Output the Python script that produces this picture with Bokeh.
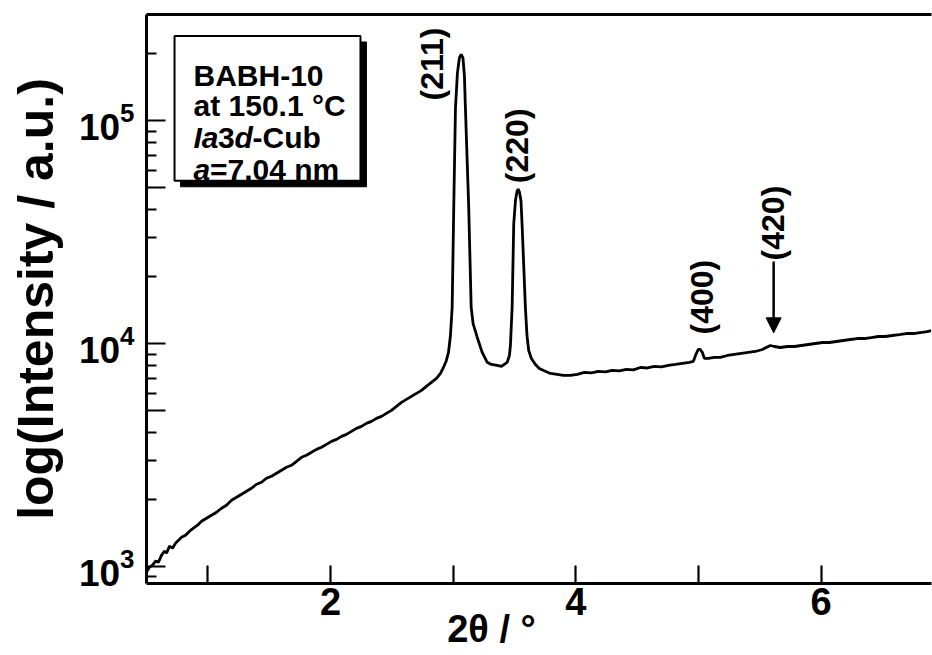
from bokeh.plotting import figure
from bokeh.models import (FixedTicker, LinearAxis, Label, BoxAnnotation, Arrow,
                          NormalHead, Range1d, ColumnDataSource)
from bokeh.embed import file_html
from bokeh.resources import INLINE
from bokeh.core.properties import value

# ---------------- data ----------------
two_theta = [0.500, 0.525, 0.549, 0.574, 0.598, 0.623, 0.647, 0.663, 0.688, 0.712,
             0.737, 0.761, 0.786, 0.818, 0.851, 0.883, 0.916, 0.949, 0.989, 1.030,
             1.071, 1.112, 1.152, 1.193, 1.234, 1.275, 1.315, 1.356, 1.397, 1.438,
             1.478, 1.519, 1.560, 1.601, 1.641, 1.682, 1.723, 1.764, 1.804, 1.845,
             1.886, 1.927, 1.967, 2.008, 2.049, 2.090, 2.130, 2.171, 2.212, 2.253,
             2.293, 2.334, 2.375, 2.416, 2.456, 2.497, 2.538, 2.579, 2.619, 2.660,
             2.701, 2.742, 2.782, 2.823, 2.864, 2.897, 2.921, 2.945, 2.962, 2.978,
             2.992, 3.005, 3.019, 3.035, 3.051, 3.065, 3.080, 3.092, 3.100, 3.127,
             3.147, 3.163, 3.196, 3.236, 3.277, 3.312, 3.359, 3.394, 3.440, 3.459,
             3.467, 3.481, 3.494, 3.508, 3.520, 3.530, 3.540, 3.553, 3.562, 3.589,
             3.602, 3.616, 3.638, 3.671, 3.703, 3.738, 3.793, 3.848, 3.899, 3.956,
             4.013, 4.070, 4.127, 4.184, 4.241, 4.298, 4.355, 4.412, 4.469, 4.527,
             4.584, 4.641, 4.698, 4.755, 4.812, 4.869, 4.926, 4.958, 4.979, 4.999,
             5.015, 5.032, 5.048, 5.081, 5.130, 5.178, 5.236, 5.293, 5.350, 5.407,
             5.464, 5.521, 5.553, 5.586, 5.619, 5.667, 5.725, 5.782, 5.839, 5.896,
             5.953, 6.010, 6.067, 6.124, 6.181, 6.238, 6.295, 6.352, 6.409, 6.466,
             6.523, 6.580, 6.637, 6.694, 6.751, 6.808, 6.865, 6.898]

intensity = [946, 996, 1017, 1060, 1049, 1127, 1175, 1151, 1237, 1211,
             1276, 1316, 1357, 1385, 1443, 1489, 1536, 1600, 1651, 1703,
             1756, 1830, 1888, 1988, 2050, 2115, 2181, 2249, 2344, 2393,
             2494, 2545, 2626, 2708, 2793, 2851, 2971, 3097, 3161, 3260,
             3362, 3433, 3540, 3651, 3727, 3844, 3923, 4047, 4174, 4261,
             4395, 4486, 4628, 4724, 4874, 5027, 5239, 5460, 5632, 5808,
             5991, 6180, 6440, 6711, 6993, 7362, 7832, 8418, 9143, 10894,
             14580, 40900, 114700, 164100, 191500, 198900, 191500, 159000, 114700, 40900,
             14580, 12290, 10704, 9172, 8272, 8077, 7994, 7912, 8247, 8863,
             9826, 14580, 34460, 43820, 48080, 49440, 48080, 43820, 34460, 14580,
             10894, 9333, 8597, 8077, 7751, 7592, 7362, 7286, 7211, 7211,
             7286, 7439, 7400, 7516, 7480, 7592, 7560, 7672, 7640, 7832,
             7790, 7912, 7880, 7994, 8077, 8163, 8247, 8332, 8956, 9430,
             9430, 9143, 8597, 8597, 8684, 8684, 8863, 8956, 9050, 9143,
             9237, 9430, 9625, 9826, 9725, 9625, 9725, 9725, 9826, 9929,
             10031, 10135, 10135, 10240, 10346, 10454, 10561, 10561, 10671, 10782,
             10782, 10894, 11005, 11120, 11120, 11235, 11352, 11470]

peak_labels = ["(211)", "(220)", "(400)", "(420)"]
peak_label_x = [2.826, 3.518, 5.032, 5.606]
peak_label_y = [180000, 77300, 16200, 34800]

x_ticks = [1, 2, 3, 4, 5, 6]
x_tick_labels = {1: "", 2: "2", 3: "", 4: "4", 5: "", 6: "6"}
y_ticks = [1000, 10000, 100000, 5000, 50000]
y_tick_blank = {5000: "", 50000: ""}
y_minor = [900, 2000, 3000, 4000, 6000, 7000, 8000, 9000,
           20000, 30000, 40000, 60000, 70000, 80000, 90000, 200000]

legend_lines = ["BABH-10", "at 150.1 \u00b0C"]
x_title = "2\u03b8 / \u00b0"
y_title = "log(Intensity / a.u.)"

FONT = "Liberation Sans"

# ---------------- figure ----------------
p = figure(width=932, height=655, x_range=Range1d(0.5, 6.9), y_range=Range1d(841, 300000),
           y_axis_type="log", output_backend="svg", toolbar_location=None,
           min_border_left=146, min_border_right=1, min_border_top=14, min_border_bottom=72)
p.outline_line_color = None
p.grid.visible = False
p.background_fill_color = "white"
p.border_fill_color = "white"

src = ColumnDataSource(dict(x=two_theta, y=intensity))
p.line("x", "y", source=src, line_color="black", line_width=2.8)

# x axis
xa = p.below[0]
xa.ticker = FixedTicker(ticks=x_ticks)
xa.major_label_overrides = x_tick_labels
xa.major_tick_in = 18
xa.major_tick_out = 0
xa.minor_tick_in = 0
xa.minor_tick_out = 0
xa.axis_line_width = 3
xa.major_tick_line_width = 2.2
xa.major_label_text_font = FONT
xa.major_label_text_font_style = "bold"
xa.major_label_text_font_size = "38px"
xa.major_label_text_color = "black"
xa.major_label_standoff = 4
# title shifted left of centre (trailing no-break spaces), tucked between tick labels
xa.axis_label = x_title + "\u00a0" * 9
xa.axis_label_text_font = FONT
xa.axis_label_text_font_style = "bold"
xa.axis_label_text_font_size = "38px"
xa.axis_label_text_color = "black"
xa.axis_label_standoff = -10

# y axis
ya = p.left[0]
ya.ticker = FixedTicker(ticks=y_ticks, minor_ticks=y_minor)
ya.major_label_overrides = y_tick_blank
ya.major_tick_in = 19
ya.major_tick_out = 0
ya.minor_tick_in = 10
ya.minor_tick_out = 0
ya.axis_line_width = 3
ya.major_tick_line_width = 2.2
ya.minor_tick_line_width = 2.2
ya.major_label_text_font = FONT
ya.major_label_text_font_style = "bold"
ya.major_label_text_font_size = "37px"
ya.major_label_text_color = "black"
ya.major_label_standoff = 12
ya.axis_label = y_title
ya.axis_label_text_font = FONT
ya.axis_label_text_font_style = "bold"
ya.axis_label_text_font_size = "50px"
ya.axis_label_text_color = "black"
ya.axis_label_standoff = 12

# top frame line
top = LinearAxis(ticker=FixedTicker(ticks=[]), major_tick_out=0, major_tick_in=0,
                 minor_tick_out=0, minor_tick_in=0, axis_line_width=3,
                 major_label_text_font_size="0px")
p.add_layout(top, "above")

# peak labels
p.text(x=peak_label_x, y=peak_label_y, text=peak_labels, angle=1.5708,
       text_font=value(FONT), text_font_style="bold", text_font_size="32px",
       text_color="black", text_align="center", text_baseline="middle")

# arrow for (420)
p.add_layout(Arrow(x_start=5.613, y_start=23400, x_end=5.613, y_end=11200,
                   line_color="black", line_width=2.5,
                   end=NormalHead(size=15, fill_color="black", line_color="black", line_width=1)))

# legend box with shadow
p.add_layout(BoxAnnotation(left=0.7775, right=2.2934, top=225800, bottom=50620,
                           fill_color="black", fill_alpha=1, line_color="black",
                           line_alpha=1, line_width=1))
p.add_layout(BoxAnnotation(left=0.7286, right=2.2445, top=240300, bottom=53870,
                           fill_color="white", fill_alpha=1, line_color="black",
                           line_alpha=1, line_width=2))

lx = 0.8835
FS = "30px"
p.add_layout(Label(x=lx, y=159100, text=legend_lines[0], text_font=FONT, text_font_style="bold",
                   text_font_size=FS, text_color="black", text_baseline="alphabetic"))
p.add_layout(Label(x=lx, y=116700, text=legend_lines[1], text_font=FONT, text_font_style="bold",
                   text_font_size=FS, text_color="black", text_baseline="alphabetic"))
for txt, dx, style in [("Ia", 0, "bold italic"), ("3", 24.5, "bold"), ("d", 41, "bold italic"),
                       ("-Cub", 59, "bold")]:
    p.add_layout(Label(x=lx, y=83900, x_offset=dx, text=txt, text_font=FONT, text_font_style=style,
                       text_font_size=FS, text_color="black", text_baseline="alphabetic"))
for txt, dx, style in [("a", 0, "bold italic"), ("=7.04 nm", 16.5, "bold")]:
    p.add_layout(Label(x=lx, y=60300, x_offset=dx, text=txt, text_font=FONT, text_font_style=style,
                       text_font_size=FS, text_color="black", text_baseline="alphabetic"))

open("out.html", "w").write(file_html(p, INLINE))
